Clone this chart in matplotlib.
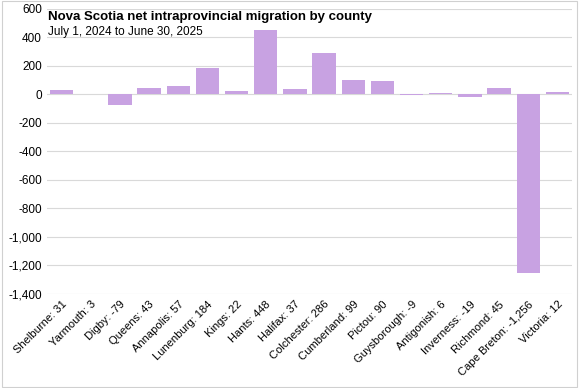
import matplotlib.pyplot as plt
import numpy as np

plt.rcParams['font.family'] = ['Liberation Sans', 'DejaVu Sans']

counties = ['Shelburne', 'Yarmouth', 'Digby', 'Queens', 'Annapolis', 'Lunenburg',
            'Kings', 'Hants', 'Halifax', 'Colchester', 'Cumberland', 'Pictou',
            'Guysborough', 'Antigonish', 'Inverness', 'Richmond', 'Cape Breton', 'Victoria']
migration = [31, 3, -79, 43, 57, 184, 22, 448, 37, 286, 99, 90, -9, 6, -19, 45, -1256, 12]
labels = ['Shelburne: 31', 'Yarmouth: 3', 'Digby: -79', 'Queens: 43', 'Annapolis: 57',
          'Lunenburg: 184', 'Kings: 22', 'Hants: 448', 'Halifax: 37', 'Colchester: 286',
          'Cumberland: 99', 'Pictou: 90', 'Guysborough: -9', 'Antigonish: 6',
          'Inverness: -19', 'Richmond: 45', 'Cape Breton: -1,256', 'Victoria: 12']

fig = plt.figure(figsize=(5.79, 3.88), dpi=100)
ax = fig.add_axes([0.081, 0.243, 0.907, 0.735])

x = np.arange(len(counties))
ax.bar(x, migration, width=0.8, color='#c8a2e2', zorder=2)

ax.set_ylim(-1400, 600)
ax.set_xlim(-0.5, len(counties) - 0.5)
ax.set_yticks(np.arange(-1400, 601, 200))
ax.set_yticklabels([f'{v:,}' for v in np.arange(-1400, 601, 200)], fontsize=8.5)
ax.yaxis.grid(True, color='#d9d9d9', linewidth=0.8, zorder=0)
ax.set_xticks(x)
ax.set_xticklabels(labels, rotation=45, ha='right', rotation_mode='anchor', fontsize=8)
ax.tick_params(length=0)
ax.tick_params(axis='x', pad=4)
for s in ax.spines.values():
    s.set_visible(False)

fig.text(0.083, 0.955, 'Nova Scotia net intraprovincial migration by county',
         fontsize=9.5, fontweight='bold', va='center')
fig.text(0.083, 0.918, 'July 1, 2024 to June 30, 2025', fontsize=8.5, va='center')

border = plt.Rectangle((0.003, 0.003), 0.994, 0.994, transform=fig.transFigure,
                       fill=False, edgecolor='#d0d0d0', linewidth=0.8)
fig.patches.append(border)

fig.savefig('out.png', dpi=100)
